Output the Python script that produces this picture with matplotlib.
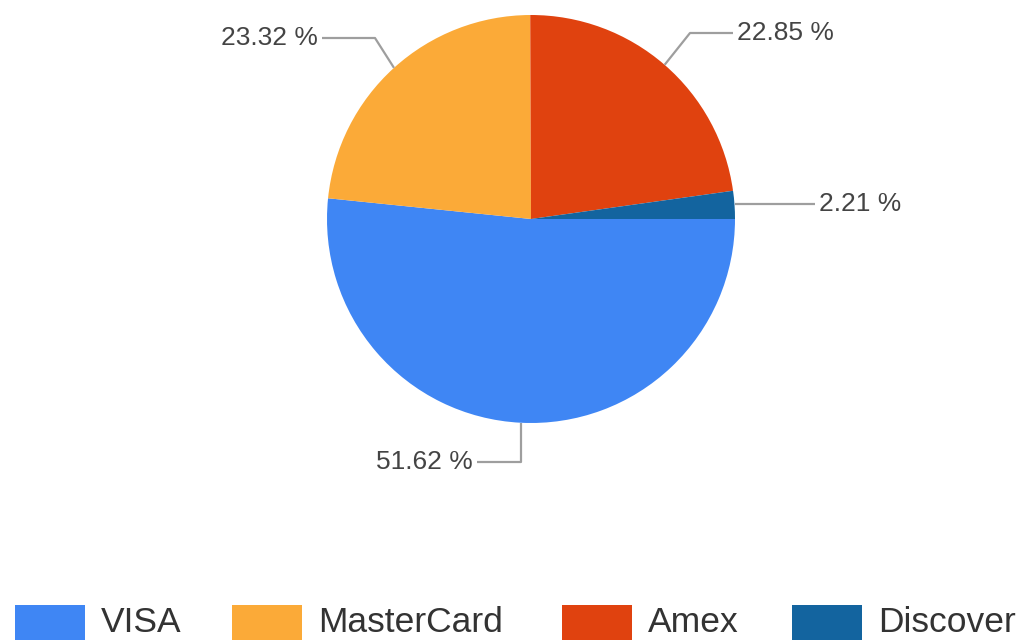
import matplotlib
matplotlib.use('Agg')
import matplotlib.pyplot as plt
from matplotlib.patches import Rectangle
import numpy as np

plt.rcParams['font.family'] = ['Liberation Sans', 'DejaVu Sans']

# data
cards = ['VISA', 'MasterCard', 'Amex', 'Discover']
shares = [51.62, 23.32, 22.85, 2.21]
colors = ['#3F86F4', '#FBAA38', '#E0420F', '#13649F']

W, H = 1019, 642
fig = plt.figure(figsize=(W / 100, H / 100), dpi=100)
ax = fig.add_axes([0, 0, 1, 1])

cx, cy, r = 531, H - 219, 204
wedges, _ = ax.pie(shares, colors=colors, startangle=0, counterclock=False,
                   center=(cx, cy), radius=r, frame=True,
                   wedgeprops=dict(linewidth=0))
ax.set_xlim(0, W)
ax.set_ylim(0, H)
ax.set_aspect('equal')
ax.axis('off')

# label layout: elbow point and text anchor (image coords, y down)
layout = {
    'VISA': dict(elbow=None, end=(477, 462), ha='right', vert=True),
    'MasterCard': dict(elbow=(375, 38), end=(322, 38), ha='right', vert=False),
    'Amex': dict(elbow=(690, 33), end=(733, 33), ha='left', vert=False),
    'Discover': dict(elbow=None, end=(815, 204), ha='left', vert=False),
}

for w, name, val in zip(wedges, cards, shares):
    mid = np.deg2rad((w.theta1 + w.theta2) / 2)
    px, py = cx + r * np.cos(mid), cy + r * np.sin(mid)
    L = layout[name]
    ex, ey = L['end'][0], H - L['end'][1]
    if L['vert']:
        xs, ys = [px, px, ex], [py, ey, ey]
    elif L['elbow'] is not None:
        bx, by = L['elbow'][0], H - L['elbow'][1]
        xs, ys = [px, bx, ex], [py, by, ey]
    else:
        xs, ys = [px, ex], [ey, ey]
    ax.plot(xs, ys, color='#9e9e9e', lw=1.6, solid_capstyle='butt')
    tx = ex - 4 if L['ha'] == 'right' else ex + 4
    ax.text(tx, ey, f'{val:.2f} %', ha=L['ha'], va='center',
            fontsize=19, color='#444444')

# legend
leg_boxes = [15, 232, 562, 792]
for name, col, x0 in zip(cards, colors, leg_boxes):
    ax.add_patch(Rectangle((x0, H - 640), 70, 35, facecolor=col, edgecolor='none'))
    ax.text(x0 + 86, H - 623, name, ha='left', va='center',
            fontsize=25.5, color='#333333')

fig.savefig('out.png', dpi=100)
